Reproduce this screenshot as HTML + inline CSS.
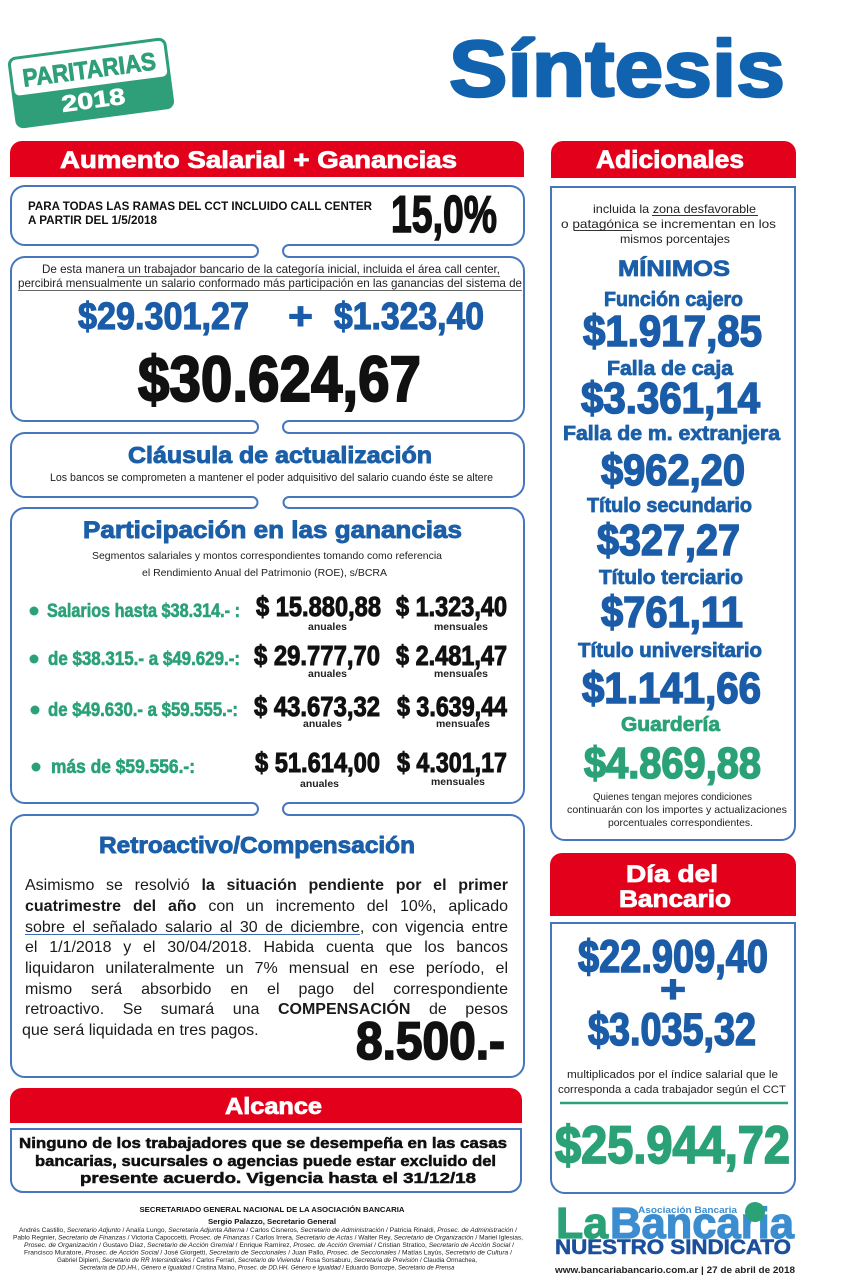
<!DOCTYPE html>
<html><head><meta charset="utf-8"><style>
html,body{margin:0;padding:0;background:#fff;}
#wrap{position:relative;width:860px;height:1280px;overflow:hidden;}
svg{display:block;position:absolute;left:0;top:0;}
.h{font-family:"Liberation Sans",sans-serif;font-weight:bold;}
.n{font-family:"Liberation Sans Narrow","Liberation Sans",sans-serif;font-weight:bold;}
.r{font-family:"Liberation Sans",sans-serif;}
#para{position:absolute;left:25px;top:876.4px;width:483px;font-family:"Liberation Sans",sans-serif;font-size:16px;line-height:20.65px;color:#1a1a1a;}
#para div{text-align:justify;text-align-last:justify;white-space:nowrap;height:20.65px;}
#para div.last{text-align:left;text-align-last:left;margin-left:-3px;}
#para b{font-weight:bold;}
#para u{text-decoration:underline;text-decoration-color:#3a6fb5;text-underline-offset:2px;}
</style></head><body>
<div id="wrap">
<svg width="860" height="1280" viewBox="0 0 860 1280" xmlns="http://www.w3.org/2000/svg">
<rect width="860" height="1280" fill="#fff"/>

<!-- Badge -->
<g transform="translate(91,83) rotate(-7.5)">
  <rect x="-80" y="-36" width="160" height="72" rx="8" fill="#2e9f78"/>
  <rect x="-77" y="-33" width="154" height="36" rx="5" fill="#fff"/>
  <text class="n" x="-67" y="-5" font-size="25" fill="#2e9f78" stroke="#2e9f78" stroke-width="0.8" textLength="134" lengthAdjust="spacingAndGlyphs">PARITARIAS</text>
  <text class="h" x="-32" y="25" font-size="23" fill="#fff" stroke="#fff" stroke-width="0.6" textLength="64" lengthAdjust="spacingAndGlyphs">2018</text>
</g>

<!-- Síntesis -->
<text class="h" x="449" y="96" font-size="80" fill="#1163af" stroke="#1163af" stroke-width="2.5" stroke-linejoin="round" textLength="336" lengthAdjust="spacingAndGlyphs">Síntesis</text>

<!-- Red headers -->
<path d="M 10,177 V 153 A12 12 0 0 1 22,141 H 512 A12 12 0 0 1 524,153 V 177 Z" fill="#e2001a"/>
<text class="h" x="60" y="168" font-size="24" fill="#fff" stroke="#fff" stroke-width="0.8" textLength="397" lengthAdjust="spacingAndGlyphs">Aumento Salarial + Ganancias</text>
<path d="M 551,178 V 153 A12 12 0 0 1 563,141 H 784 A12 12 0 0 1 796,153 V 178 Z" fill="#e2001a"/>
<text class="h" x="596" y="168" font-size="25" fill="#fff" stroke="#fff" stroke-width="0.8" textLength="148" lengthAdjust="spacingAndGlyphs">Adicionales</text>

<!-- Left column boxes -->
<g fill="none" stroke="#4677bd" stroke-width="2">
  <path d="M 25,186 H 510 A14 14 0 0 1 524,200 V 231 A14 14 0 0 1 510,245 H 289 M 252,245 H 25 A14 14 0 0 1 11,231 V 200 A14 14 0 0 1 25,186"/>
  <path d="M 252,257 H 25 A14 14 0 0 0 11,271 V 407 A14 14 0 0 0 25,421 H 252 M 289,421 H 510 A14 14 0 0 0 524,407 V 271 A14 14 0 0 0 510,257 H 289"/>
  <path d="M 252,433 H 25 A14 14 0 0 0 11,447 V 483 A14 14 0 0 0 25,497 H 252 M 289,497 H 510 A14 14 0 0 0 524,483 V 447 A14 14 0 0 0 510,433 H 289"/>
  <path d="M 252,508 H 25 A14 14 0 0 0 11,522 V 789 A14 14 0 0 0 25,803 H 252 M 289,803 H 510 A14 14 0 0 0 524,789 V 522 A14 14 0 0 0 510,508 H 289"/>
  <path d="M 252,815 H 25 A14 14 0 0 0 11,829 V 1063 A14 14 0 0 0 25,1077 H 510 A14 14 0 0 0 524,1063 V 829 A14 14 0 0 0 510,815 H 289"/>
  <path d="M 252,245 A6 6 0 0 1 252,257 M 289,245 A6 6 0 0 0 289,257"/>
  <path d="M 252,421 A6 6 0 0 1 252,433 M 289,421 A6 6 0 0 0 289,433"/>
  <path d="M 252,497 A5.5 5.5 0 0 1 252,508 M 289,497 A5.5 5.5 0 0 0 289,508"/>
  <path d="M 252,803 A6 6 0 0 1 252,815 M 289,803 A6 6 0 0 0 289,815"/>
  <path d="M 11,1129 H 521 V 1180 A12 12 0 0 1 509,1192 H 23 A12 12 0 0 1 11,1180 Z"/>
  <path d="M 551,187 H 795 V 826 A14 14 0 0 1 781,840 H 565 A14 14 0 0 1 551,826 Z"/>
  <path d="M 551,923 H 795 V 1179 A14 14 0 0 1 781,1193 H 565 A14 14 0 0 1 551,1179 Z"/>
</g>

<!-- Box 1 -->
<text class="n" x="28" y="210" font-size="11.5" fill="#111" textLength="344" lengthAdjust="spacingAndGlyphs">PARA TODAS LAS RAMAS DEL CCT INCLUIDO CALL CENTER</text>
<text class="n" x="28" y="224" font-size="11.5" fill="#111" textLength="129" lengthAdjust="spacingAndGlyphs">A PARTIR DEL 1/5/2018</text>
<text class="n" x="391" y="232" font-size="52" fill="#111" stroke="#111" stroke-width="1.5" textLength="106" lengthAdjust="spacingAndGlyphs">15,0%</text>

<!-- Box 2 -->
<text class="r" x="42" y="273" font-size="12" fill="#222" textLength="458" lengthAdjust="spacingAndGlyphs">De esta manera un trabajador bancario de la categoría inicial, incluida el área call center,</text>
<line x1="117" y1="276.5" x2="500" y2="276.5" stroke="#666" stroke-width="1"/>
<text class="r" x="18" y="287" font-size="12" fill="#222" textLength="504" lengthAdjust="spacingAndGlyphs">percibirá mensualmente un salario conformado más participación en las ganancias del sistema de</text>
<line x1="18" y1="290.5" x2="522" y2="290.5" stroke="#666" stroke-width="1"/>
<text class="n" x="78" y="329" font-size="38" fill="#1a5ca8" stroke="#1a5ca8" stroke-width="1.2" textLength="171" lengthAdjust="spacingAndGlyphs">$29.301,27</text>
<text class="h" x="288" y="329" font-size="38" fill="#1a5ca8" stroke="#1a5ca8" stroke-width="1" textLength="25" lengthAdjust="spacingAndGlyphs">+</text>
<text class="n" x="334" y="329" font-size="38" fill="#1a5ca8" stroke="#1a5ca8" stroke-width="1.2" textLength="150" lengthAdjust="spacingAndGlyphs">$1.323,40</text>
<text class="n" x="138" y="401" font-size="64" fill="#111" stroke="#111" stroke-width="2" textLength="283" lengthAdjust="spacingAndGlyphs">$30.624,67</text>

<!-- Box 3 -->
<text class="h" x="128" y="463" font-size="23" fill="#1b5fa8" stroke="#1b5fa8" stroke-width="0.9" textLength="304" lengthAdjust="spacingAndGlyphs">Cláusula de actualización</text>
<text class="r" x="50" y="481" font-size="11" fill="#222" textLength="443" lengthAdjust="spacingAndGlyphs">Los bancos se comprometen a mantener el poder adquisitivo del salario cuando   éste se altere</text>

<!-- Box 4 -->
<text class="h" x="83" y="538" font-size="24" fill="#1b5fa8" stroke="#1b5fa8" stroke-width="0.9" textLength="379" lengthAdjust="spacingAndGlyphs">Participación en las ganancias</text>
<text class="r" x="92" y="559" font-size="10.5" fill="#222" textLength="350" lengthAdjust="spacingAndGlyphs">Segmentos salariales y montos correspondientes tomando como referencia</text>
<text class="r" x="142" y="576" font-size="10.5" fill="#222" textLength="245" lengthAdjust="spacingAndGlyphs">el Rendimiento Anual del Patrimonio (ROE), s/BCRA</text>

<g fill="#2aa177">
  <circle cx="34" cy="611" r="4.5"/>
  <circle cx="34" cy="659" r="4.5"/>
  <circle cx="35" cy="710" r="4.5"/>
  <circle cx="36" cy="767" r="4.5"/>
</g>
<g class="n" fill="#2aa177" stroke="#2aa177" stroke-width="0.6" font-size="19">
  <text x="47" y="617" textLength="193" lengthAdjust="spacingAndGlyphs">Salarios hasta $38.314.- :</text>
  <text x="48" y="665" textLength="192" lengthAdjust="spacingAndGlyphs">de $38.315.- a $49.629.-:</text>
  <text x="48" y="716" textLength="190" lengthAdjust="spacingAndGlyphs">de $49.630.- a $59.555.-:</text>
  <text x="51" y="773" textLength="144" lengthAdjust="spacingAndGlyphs">más de $59.556.-:</text>
</g>
<g class="n" fill="#111" stroke="#111" stroke-width="1" font-size="28">
  <text x="256" y="616" textLength="125" lengthAdjust="spacingAndGlyphs">$ 15.880,88</text>
  <text x="396" y="616" textLength="111" lengthAdjust="spacingAndGlyphs">$ 1.323,40</text>
  <text x="254" y="665" textLength="126" lengthAdjust="spacingAndGlyphs">$ 29.777,70</text>
  <text x="396" y="665" textLength="111" lengthAdjust="spacingAndGlyphs">$ 2.481,47</text>
  <text x="254" y="716" textLength="126" lengthAdjust="spacingAndGlyphs">$ 43.673,32</text>
  <text x="397" y="716" textLength="110" lengthAdjust="spacingAndGlyphs">$ 3.639,44</text>
  <text x="255" y="772" textLength="125" lengthAdjust="spacingAndGlyphs">$ 51.614,00</text>
  <text x="397" y="772" textLength="110" lengthAdjust="spacingAndGlyphs">$ 4.301,17</text>
</g>
<g class="h" fill="#222" font-size="10">
  <text x="308" y="630" textLength="39" lengthAdjust="spacingAndGlyphs">anuales</text>
  <text x="434" y="630" textLength="54" lengthAdjust="spacingAndGlyphs">mensuales</text>
  <text x="308" y="677" textLength="39" lengthAdjust="spacingAndGlyphs">anuales</text>
  <text x="434" y="677" textLength="54" lengthAdjust="spacingAndGlyphs">mensuales</text>
  <text x="303" y="727" textLength="39" lengthAdjust="spacingAndGlyphs">anuales</text>
  <text x="436" y="727" textLength="54" lengthAdjust="spacingAndGlyphs">mensuales</text>
  <text x="300" y="787" textLength="39" lengthAdjust="spacingAndGlyphs">anuales</text>
  <text x="431" y="785" textLength="54" lengthAdjust="spacingAndGlyphs">mensuales</text>
</g>

<!-- Box 5 -->
<text class="h" x="99" y="853" font-size="23" fill="#1b5fa8" stroke="#1b5fa8" stroke-width="0.9" textLength="316" lengthAdjust="spacingAndGlyphs">Retroactivo/Compensación</text>
<text class="n" x="356" y="1059" font-size="53" fill="#111" stroke="#111" stroke-width="1.8" textLength="149" lengthAdjust="spacingAndGlyphs">8.500.-</text>

<!-- Alcance -->
<path d="M 10,1123 V 1100 A12 12 0 0 1 22,1088 H 510 A12 12 0 0 1 522,1100 V 1123 Z" fill="#e2001a"/>
<text class="h" x="225" y="1114" font-size="23" fill="#fff" stroke="#fff" stroke-width="0.8" textLength="97" lengthAdjust="spacingAndGlyphs">Alcance</text>
<g class="h" font-size="14.5" fill="#111" stroke="#111" stroke-width="0.5">
  <text x="19" y="1148" textLength="488" lengthAdjust="spacingAndGlyphs">Ninguno de los trabajadores que se desempeña  en las casas</text>
  <text x="35" y="1166" textLength="461" lengthAdjust="spacingAndGlyphs">bancarias, sucursales o agencias puede estar excluido del</text>
  <text x="80" y="1183" textLength="396" lengthAdjust="spacingAndGlyphs">presente acuerdo. Vigencia hasta el 31/12/18</text>
</g>

<!-- Footer -->
<text class="h" x="272" y="1212" font-size="7.5" fill="#111" text-anchor="middle" textLength="265" lengthAdjust="spacingAndGlyphs">SECRETARIADO GENERAL NACIONAL DE LA ASOCIACIÓN BANCARIA</text>
<text class="h" x="272" y="1224" font-size="7" fill="#111" text-anchor="middle" textLength="128" lengthAdjust="spacingAndGlyphs">Sergio Palazzo, Secretario General</text>
<g class="r" font-size="6.3" fill="#222" text-anchor="middle">
  <text x="268" y="1232" textLength="498" lengthAdjust="spacingAndGlyphs">Andrés Castillo, <tspan font-style="italic">Secretario Adjunto</tspan> / Analía Lungo, <tspan font-style="italic">Secretaria Adjunta Alterna</tspan> / Carlos Cisneros, <tspan font-style="italic">Secretario de Administración</tspan> / Patricia Rinaldi, <tspan font-style="italic">Prosec. de Administración</tspan> /</text>
  <text x="268" y="1239.5" textLength="510" lengthAdjust="spacingAndGlyphs">Pablo Regnier, <tspan font-style="italic">Secretario de Finanzas</tspan> / Victoria Capoccetti, <tspan font-style="italic">Prosec. de Finanzas</tspan> / Carlos Irrera, <tspan font-style="italic">Secretario de Actas</tspan> / Walter Rey, <tspan font-style="italic">Secretario de Organización</tspan> / Mariel Iglesias,</text>
  <text x="269" y="1247" textLength="490" lengthAdjust="spacingAndGlyphs"><tspan font-style="italic">Prosec. de Organización</tspan> / Gustavo Díaz, <tspan font-style="italic">Secretario de Acción Gremial</tspan> / Enrique Ramírez, <tspan font-style="italic">Prosec. de Acción Gremial</tspan> / Cristian Stratico, <tspan font-style="italic">Secretario de Acción Social</tspan> /</text>
  <text x="268" y="1254.5" textLength="488" lengthAdjust="spacingAndGlyphs">Francisco Muratore, <tspan font-style="italic">Prosec. de Acción Social</tspan> / José Giorgetti, <tspan font-style="italic">Secretario de Seccionales</tspan> / Juan Pallo, <tspan font-style="italic">Prosec. de Seccionales</tspan> / Matías Layús, <tspan font-style="italic">Secretario de Cultura</tspan> /</text>
  <text x="267" y="1262" textLength="420" lengthAdjust="spacingAndGlyphs">Gabriel Dipierri, <tspan font-style="italic">Secretario de RR Intersindicales</tspan> / Carlos Ferrari, <tspan font-style="italic">Secretario de Vivienda</tspan> / Rosa Sorsaburu, <tspan font-style="italic">Secretaria de Previsión</tspan> / Claudia Ormachea,</text>
  <text x="267" y="1269.5" textLength="375" lengthAdjust="spacingAndGlyphs"><tspan font-style="italic">Secretaria de DD.HH., Género e Igualdad</tspan> / Cristina Maino, <tspan font-style="italic">Prosec. de DD.HH. Género e Igualdad</tspan> / Eduardo Borrozpe, <tspan font-style="italic">Secretario de Prensa</tspan></text>
</g>

<!-- Right column: Adicionales content -->
<g class="r" font-size="12" fill="#222">
  <text x="593" y="213" textLength="163" lengthAdjust="spacingAndGlyphs">incluida la zona desfavorable</text>
  <text x="561" y="228" textLength="215" lengthAdjust="spacingAndGlyphs">o patagónica se incrementan en los</text>
  <text x="620" y="243" textLength="110" lengthAdjust="spacingAndGlyphs">mismos porcentajes</text>
</g>
<line x1="652" y1="215.5" x2="758" y2="215.5" stroke="#333" stroke-width="1"/>
<line x1="574" y1="230.5" x2="632" y2="230.5" stroke="#333" stroke-width="1"/>

<g class="h" fill="#1b5fa8" stroke="#1b5fa8" stroke-width="0.8">
  <text x="618" y="276" font-size="22" textLength="112" lengthAdjust="spacingAndGlyphs">MÍNIMOS</text>
  <text x="604" y="306" font-size="20" textLength="139" lengthAdjust="spacingAndGlyphs">Función cajero</text>
  <text x="607" y="375" font-size="20" textLength="126" lengthAdjust="spacingAndGlyphs">Falla de caja</text>
  <text x="563" y="440" font-size="20" textLength="217" lengthAdjust="spacingAndGlyphs">Falla de m. extranjera</text>
  <text x="587" y="512" font-size="20" textLength="165" lengthAdjust="spacingAndGlyphs">Título secundario</text>
  <text x="599" y="584" font-size="20" textLength="144" lengthAdjust="spacingAndGlyphs">Título terciario</text>
  <text x="578" y="657" font-size="20" textLength="184" lengthAdjust="spacingAndGlyphs">Título universitario</text>
</g>
<g class="n" fill="#1a5ca8" stroke="#1a5ca8" stroke-width="1.6" font-size="44">
  <text x="583" y="346" textLength="179" lengthAdjust="spacingAndGlyphs">$1.917,85</text>
  <text x="581" y="413" textLength="179" lengthAdjust="spacingAndGlyphs">$3.361,14</text>
  <text x="601" y="485" textLength="144" lengthAdjust="spacingAndGlyphs">$962,20</text>
  <text x="597" y="555" textLength="143" lengthAdjust="spacingAndGlyphs">$327,27</text>
  <text x="601" y="627" textLength="142" lengthAdjust="spacingAndGlyphs">$761,11</text>
  <text x="582" y="703" textLength="179" lengthAdjust="spacingAndGlyphs">$1.141,66</text>
</g>
<text class="h" x="621" y="731" font-size="20" fill="#2aa177" stroke="#2aa177" stroke-width="0.8" textLength="99" lengthAdjust="spacingAndGlyphs">Guardería</text>
<text class="n" x="584" y="778" font-size="44" fill="#2aa177" stroke="#2aa177" stroke-width="1.6" textLength="177" lengthAdjust="spacingAndGlyphs">$4.869,88</text>
<g class="r" font-size="10.5" fill="#222">
  <text x="593" y="800" textLength="159" lengthAdjust="spacingAndGlyphs">Quienes tengan mejores condiciones</text>
  <text x="567" y="813" textLength="220" lengthAdjust="spacingAndGlyphs">continuarán con los importes y actualizaciones</text>
  <text x="608" y="826" textLength="145" lengthAdjust="spacingAndGlyphs">porcentuales correspondientes.</text>
</g>

<!-- Día del Bancario -->
<path d="M 550,916 V 865 A12 12 0 0 1 562,853 H 784 A12 12 0 0 1 796,865 V 916 Z" fill="#e2001a"/>
<text class="h" x="626" y="882" font-size="24" fill="#fff" stroke="#fff" stroke-width="0.8" textLength="92" lengthAdjust="spacingAndGlyphs">Día del</text>
<text class="h" x="619" y="907" font-size="24" fill="#fff" stroke="#fff" stroke-width="0.8" textLength="112" lengthAdjust="spacingAndGlyphs">Bancario</text>
<g class="n" fill="#1a5ca8" stroke="#1a5ca8" stroke-width="1.6" font-size="45">
  <text x="578" y="972" textLength="190" lengthAdjust="spacingAndGlyphs">$22.909,40</text>
  <text x="588" y="1045" textLength="168" lengthAdjust="spacingAndGlyphs">$3.035,32</text>
</g>
<text class="h" x="660" y="1002" font-size="38" fill="#1a5ca8" stroke="#1a5ca8" stroke-width="1.2" textLength="26" lengthAdjust="spacingAndGlyphs">+</text>
<g class="r" font-size="11" fill="#222">
  <text x="567" y="1078" textLength="211" lengthAdjust="spacingAndGlyphs">multiplicados por el índice salarial que le</text>
  <text x="558" y="1093" textLength="228" lengthAdjust="spacingAndGlyphs">corresponda a cada trabajador según el CCT</text>
</g>
<line x1="560" y1="1103" x2="788" y2="1103" stroke="#2aa177" stroke-width="2.5"/>
<text class="n" x="555" y="1163" font-size="53" fill="#2aa177" stroke="#2aa177" stroke-width="1.8" textLength="235" lengthAdjust="spacingAndGlyphs">$25.944,72</text>

<!-- Logo -->
<text class="h" x="556" y="1238" font-size="44" fill="#2aa177" stroke="#2aa177" stroke-width="1.2" textLength="52" lengthAdjust="spacingAndGlyphs">La</text>
<text class="h" x="610" y="1238" font-size="44" fill="#3b8dd0" stroke="#3b8dd0" stroke-width="1.2" textLength="184" lengthAdjust="spacingAndGlyphs">Bancaria</text>
<circle cx="755" cy="1212" r="10" fill="#2aa177"/>
<text class="h" x="638" y="1213" font-size="9.5" fill="#3b8dd0" textLength="99" lengthAdjust="spacingAndGlyphs">Asociación Bancaria</text>
<text class="h" x="555" y="1254" font-size="21" fill="#1b4f9c" stroke="#1b4f9c" stroke-width="0.6" textLength="236" lengthAdjust="spacingAndGlyphs">NUESTRO SINDICATO</text>
<text class="h" x="555" y="1273" font-size="9" fill="#222" textLength="240" lengthAdjust="spacingAndGlyphs">www.bancariabancario.com.ar | 27 de abril de 2018</text>
</svg>

<div id="para">
  <div>Asimismo se resolvió <b>la situación pendiente por el primer</b></div>
  <div><b>cuatrimestre del año</b> con un incremento del 10%, aplicado</div>
  <div><u>sobre el señalado salario al 30 de diciembre</u>, con vigencia entre</div>
  <div>el 1/1/2018 y el 30/04/2018. Habida cuenta que los bancos</div>
  <div>liquidaron unilateralmente un 7% mensual en ese período, el</div>
  <div>mismo será absorbido en el pago del correspondiente</div>
  <div>retroactivo. Se sumará una <b>COMPENSACIÓN</b> de pesos</div>
  <div class="last">que será liquidada en tres pagos.</div>
</div>
</div>
</body></html>
